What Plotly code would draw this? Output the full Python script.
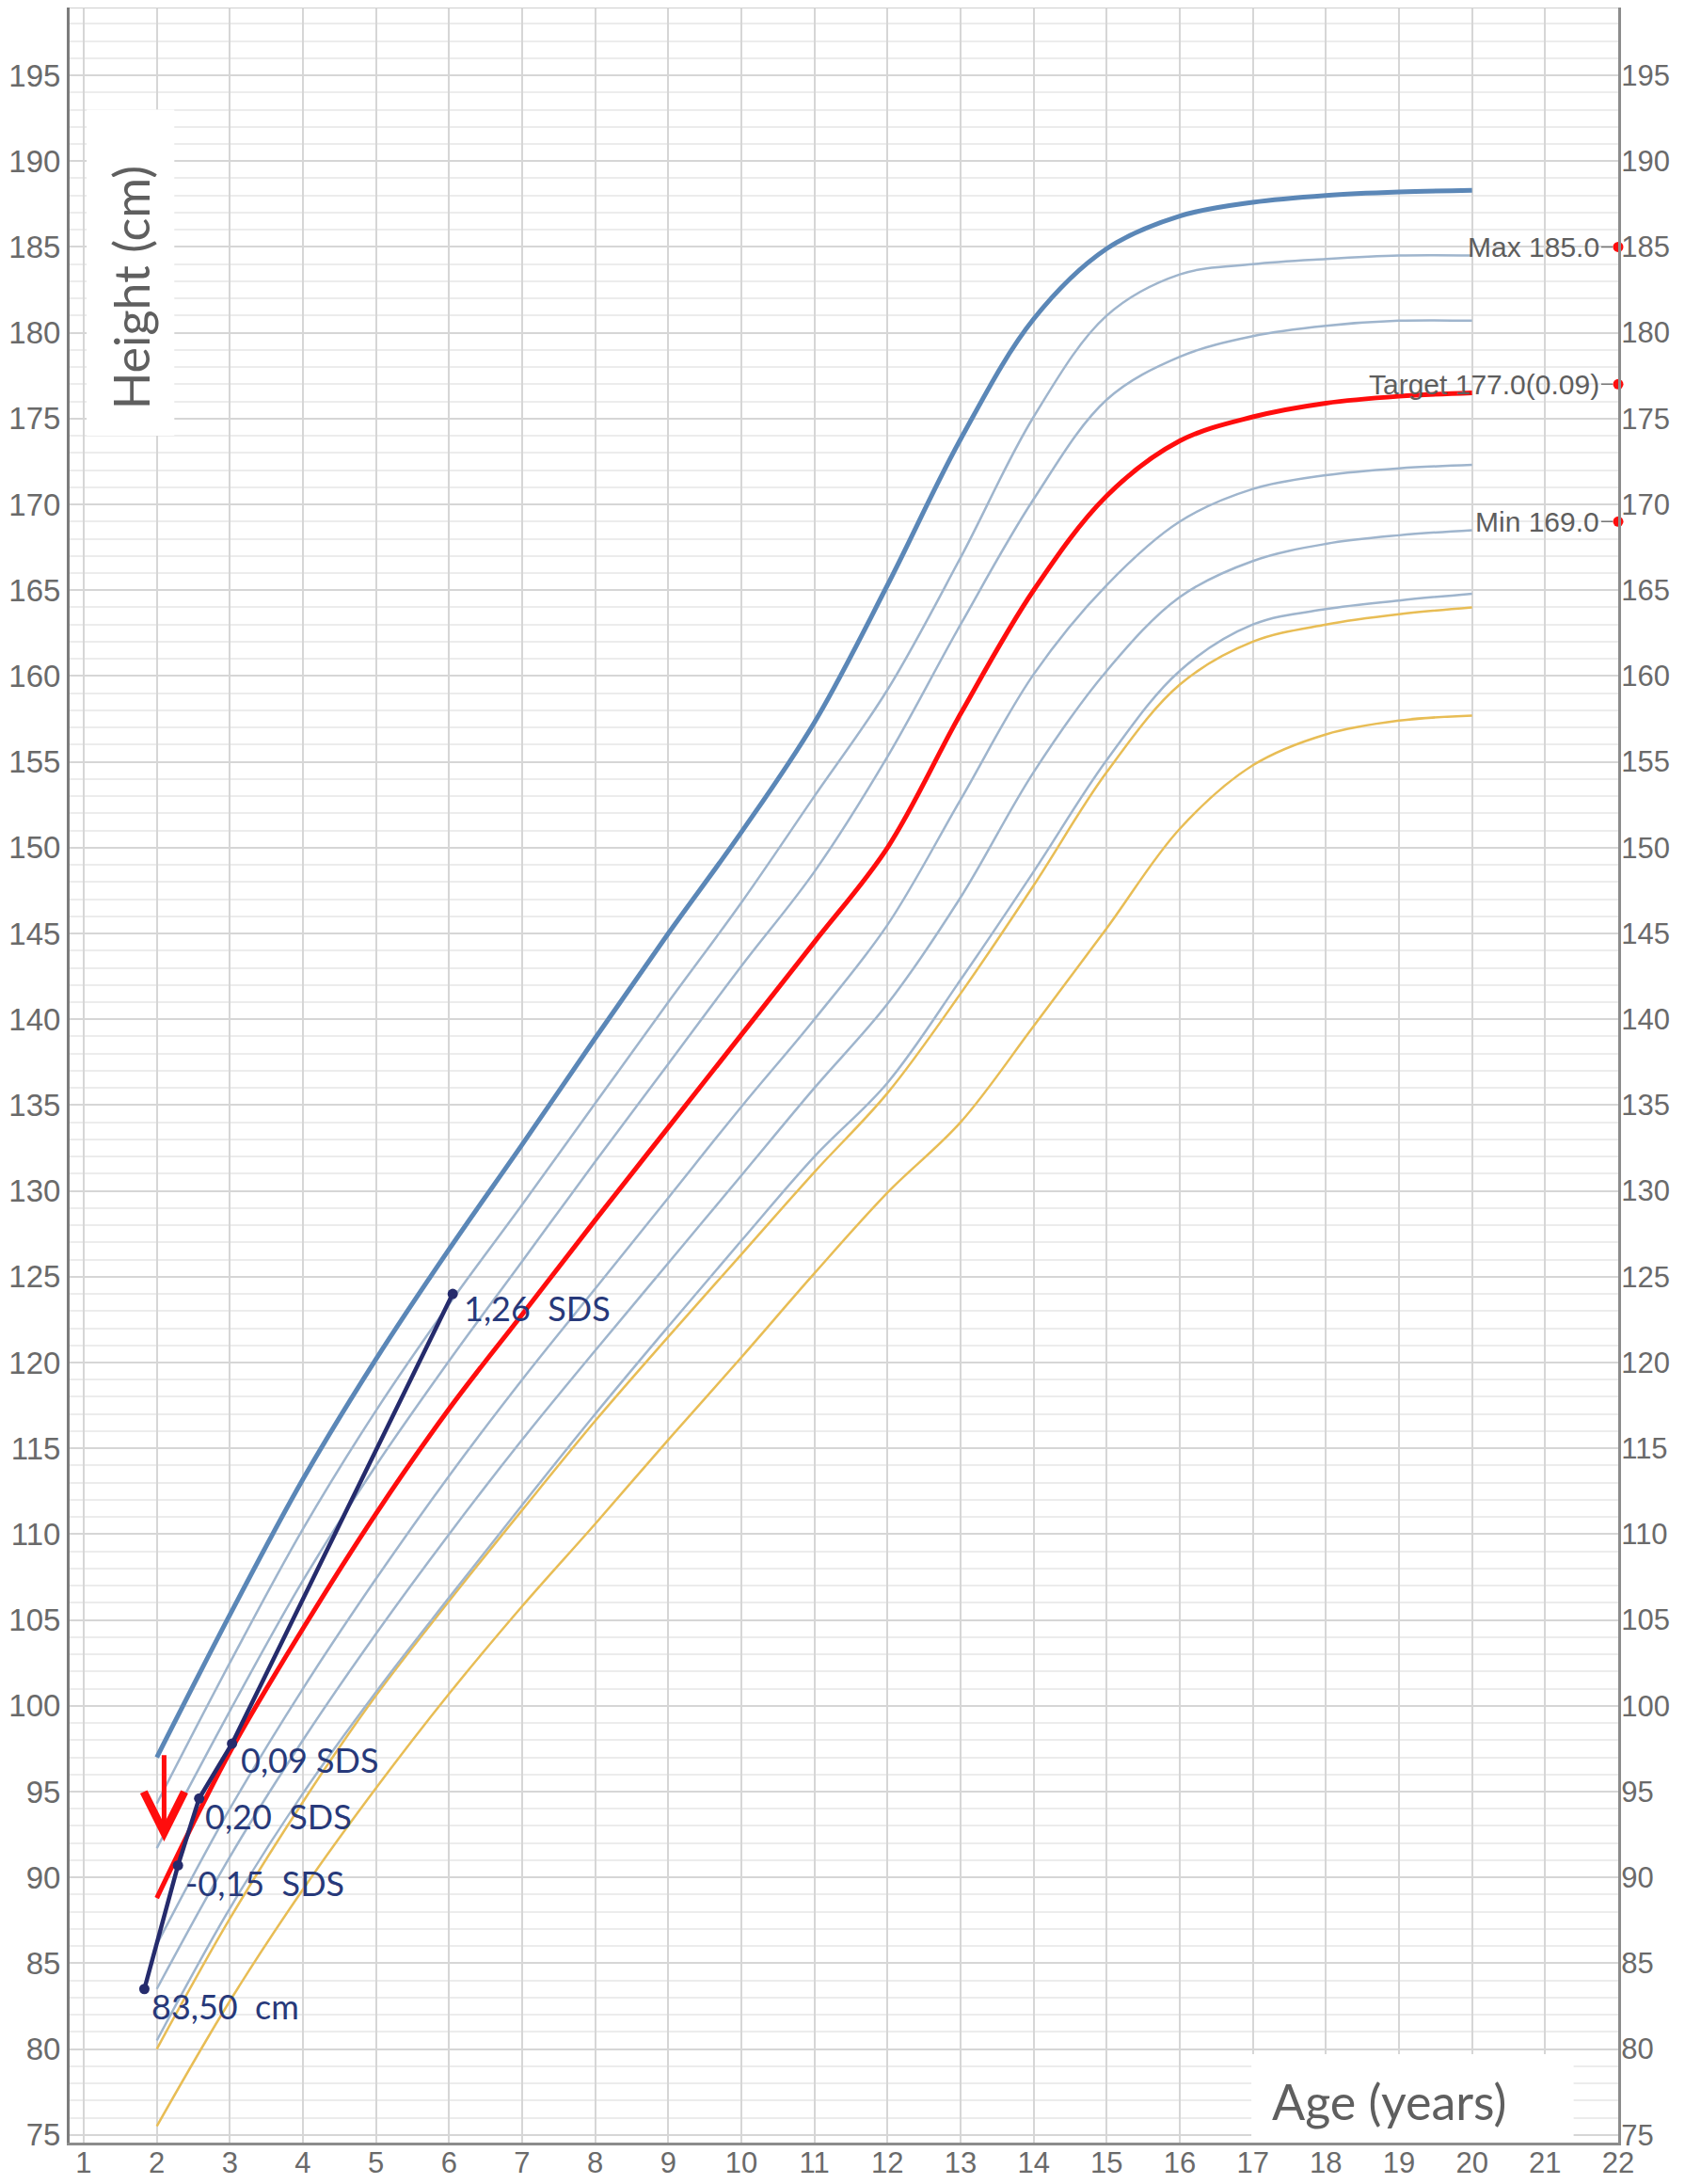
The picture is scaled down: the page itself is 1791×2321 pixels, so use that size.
"""
Growth chart (height for age) with reference SD lines, target range and patient measurements.
"""

import plotly.graph_objects as go

# Reference curves at whole years
ages = [2, 3, 4, 5, 6, 7, 8, 9, 10, 11, 12, 13, 14, 15, 16, 17, 18, 19, 20]

sd_top = [97.0, 105.3, 113.2, 120.2, 126.6, 132.7, 138.9, 145.0, 150.9, 157.3,
          165.3, 173.8, 180.8, 184.9, 186.8, 187.6, 188.0, 188.2, 188.3]
sd_line2 = [94.3, 102.5, 110.3, 117.2, 123.4, 129.2, 135.1, 141.0, 146.8, 153.0,
            159.2, 166.9, 175.1, 181.0, 183.4, 184.0, 184.3, 184.5, 184.5]
sd_line3 = [91.7, 99.7, 107.3, 114.0, 120.1, 125.9, 131.7, 137.4, 143.1, 148.6,
            155.3, 163.0, 170.3, 176.1, 178.6, 179.8, 180.4, 180.7, 180.7]
target_curve = [88.8, 97.3, 104.5, 111.2, 117.3, 122.8, 128.3, 133.7, 139.1, 144.5,
                150.0, 157.8, 165.0, 170.5, 173.7, 175.1, 175.9, 176.3, 176.5]
sd_line5 = [86.1, 94.0, 101.0, 107.4, 113.4, 119.0, 124.3, 129.6, 134.9, 140.0,
            145.5, 152.8, 160.1, 165.3, 169.0, 170.9, 171.7, 172.1, 172.3]
sd_line6 = [83.5, 91.2, 98.0, 104.2, 110.0, 115.5, 120.7, 125.8, 130.9, 136.0,
            140.9, 147.1, 154.4, 160.3, 164.6, 166.7, 167.7, 168.2, 168.5]
sd_line7 = [80.5, 88.2, 94.9, 100.8, 106.3, 111.7, 117.0, 122.1, 127.1, 132.0,
            136.3, 142.3, 148.6, 155.1, 160.3, 163.0, 163.9, 164.4, 164.8]
yellow_upper = [80.0, 87.6, 94.4, 100.6, 106.1, 111.4, 116.6, 121.5, 126.3, 131.1,
                135.7, 141.5, 147.8, 154.4, 159.5, 162.0, 163.0, 163.6, 164.0]
yellow_lower = [75.5, 82.8, 89.3, 95.2, 100.7, 105.8, 110.6, 115.5, 120.3, 125.2,
                129.9, 134.0, 139.6, 145.3, 151.1, 154.8, 156.6, 157.4, 157.7]

# Patient measurements
patient_age = [1.83, 2.29, 2.58, 3.03, 6.05]
patient_height = [83.5, 90.7, 94.6, 97.8, 124.0]
patient_labels = ["83,50\u00a0 cm", "-0,15\u00a0 SDS", "0,20\u00a0 SDS", "0,09 SDS", "1,26\u00a0 SDS"]
label_age = [1.90, 2.37, 2.64, 3.13, 6.17]
label_height = [82.5, 89.7, 93.6, 96.85, 123.2]

# Target range markers on the right axis
range_names = ["Max 185.0", "Target 177.0(0.09)", "Min 169.0"]
range_values = [185.0, 177.0, 169.0]

x_ticks = list(range(1, 23))
y_ticks = list(range(75, 200, 5))

THICK_BLUE = "#5b87b7"
THIN_BLUE = "#9fb5cd"
YELLOW = "#e8bd55"
RED = "#ff0d0d"
NAVY = "#252b6c"
LABEL_BLUE = "#27397a"
GREY_TEXT = "#6a6a6a"

SMOOTH = 1.0


def create_growth_chart_figure():
    """
    Build the height-for-age chart.

    Returns:
        Plotly Figure object
    """
    fig = go.Figure()

    # Reference lines (thin first, so the thick ones sit on top)
    thin_curves = [sd_line2, sd_line3, sd_line5, sd_line6, sd_line7]
    for curve in [yellow_lower, yellow_upper]:
        fig.add_trace(go.Scatter(x=ages, y=curve, mode="lines",
                                 line=dict(color=YELLOW, width=2.5, shape="spline", smoothing=SMOOTH),
                                 hoverinfo="skip"))
    for curve in thin_curves:
        fig.add_trace(go.Scatter(x=ages, y=curve, mode="lines",
                                 line=dict(color=THIN_BLUE, width=2.5, shape="spline", smoothing=SMOOTH),
                                 hoverinfo="skip"))
    fig.add_trace(go.Scatter(x=ages, y=sd_top, mode="lines",
                             line=dict(color=THICK_BLUE, width=5, shape="spline", smoothing=SMOOTH),
                             hoverinfo="skip"))
    fig.add_trace(go.Scatter(x=ages, y=target_curve, mode="lines",
                             line=dict(color=RED, width=5, shape="spline", smoothing=SMOOTH),
                             hoverinfo="skip"))

    # Patient
    fig.add_trace(go.Scatter(
        x=patient_age, y=patient_height, mode="lines+markers",
        line=dict(color=NAVY, width=4.5),
        marker=dict(color=NAVY, size=11),
        hovertemplate="Age: %{x}<br>Height: %{y} cm<extra></extra>"
    ))

    # Target range markers (on the right-hand axis)
    fig.add_trace(go.Scatter(
        x=[22] * len(range_values), y=range_values, mode="markers",
        marker=dict(color=RED, size=11),
        cliponaxis=False, yaxis="y2", hoverinfo="skip"
    ))

    for name, val in zip(range_names, range_values):
        fig.add_annotation(x=22, y=val, text=name, showarrow=True,
                           ax=-18, ay=0, arrowhead=0, arrowwidth=1.5, arrowcolor="#777777",
                           xanchor="right", standoff=6,
                           font=dict(family="Liberation Sans, Arial", size=30, color="#5e5e5e"))

    for txt, xa, ya in zip(patient_labels, label_age, label_height):
        fig.add_annotation(x=xa, y=ya, text=txt, showarrow=False, xanchor="left",
                           font=dict(family="Lato, Open Sans", size=36, color=LABEL_BLUE))

    # Red arrow at age 2
    fig.add_annotation(x=2.10, y=92.1, ax=2.10, ay=97.2, axref="x", ayref="y",
                       xref="x", yref="y", text="", showarrow=True,
                       arrowhead=5, arrowsize=1.7, arrowwidth=5, arrowcolor=RED)

    # White boxes for the axis titles
    fig.add_shape(type="rect", x0=1.04, x1=2.24, y0=174.0, y1=193.0,
                  fillcolor="white", line=dict(width=0), layer="above")
    fig.add_shape(type="rect", x0=16.98, x1=21.39, y0=74.55, y1=79.7,
                  fillcolor="white", line=dict(width=0), layer="above")
    fig.add_annotation(x=1.645, y=182.6, text="Height (cm)", textangle=-90, showarrow=False,
                       font=dict(family="Lato, Open Sans", size=52, color="#5f5f5f"))
    fig.add_annotation(x=18.86, y=76.96, text="Age (years)", showarrow=False,
                       font=dict(family="Lato, Open Sans", size=52, color="#5f5f5f"))

    # Thin light border along the top
    fig.add_shape(type="line", xref="paper", yref="paper", x0=0, x1=1, y0=1, y1=1,
                  line=dict(color="#cfcfcf", width=2))

    y_tick_font = dict(family="Liberation Sans, Arial", size=33, color=GREY_TEXT)
    y2_tick_font = dict(family="Liberation Sans, Arial", size=31, color=GREY_TEXT)
    x_tick_font = dict(family="Liberation Sans, Arial", size=31, color=GREY_TEXT)
    y_range = [74.55, 198.95]

    # The page body has an 8px margin, so the figure is made a little smaller
    fig.update_layout(
        width=1775,
        height=2313,
        margin=dict(l=66, r=63, t=0, b=44),
        plot_bgcolor="white",
        paper_bgcolor="white",
        showlegend=False,
        xaxis=dict(
            range=[0.807, 22.0],
            tickmode="array", tickvals=x_ticks,
            tickfont=x_tick_font,
            showgrid=True, gridcolor="#d6d6d6", gridwidth=2,
            showline=True, linecolor="#8c8c8c", linewidth=3,
            zeroline=False, ticks="", ticklabelstandoff=-8, automargin=False
        ),
        yaxis=dict(
            range=y_range,
            tickmode="array", tickvals=y_ticks,
            tickfont=y_tick_font,
            showgrid=True, gridcolor="#d6d6d6", gridwidth=2,
            minor=dict(dtick=1, tick0=75, showgrid=True, gridcolor="#ececec", gridwidth=1.5),
            showline=True, linecolor="#7c7c7c", linewidth=3,
            zeroline=False, ticks="", automargin=False
        ),
        yaxis2=dict(
            range=y_range, overlaying="y", side="right",
            tickmode="array", tickvals=y_ticks,
            tickfont=y2_tick_font,
            showgrid=False, showline=True, linecolor="#8c8c8c", linewidth=3,
            zeroline=False, ticks="", ticklabelstandoff=-6, automargin=False
        ),
    )

    return fig


fig = create_growth_chart_figure()
fig.write_html("out.html")
